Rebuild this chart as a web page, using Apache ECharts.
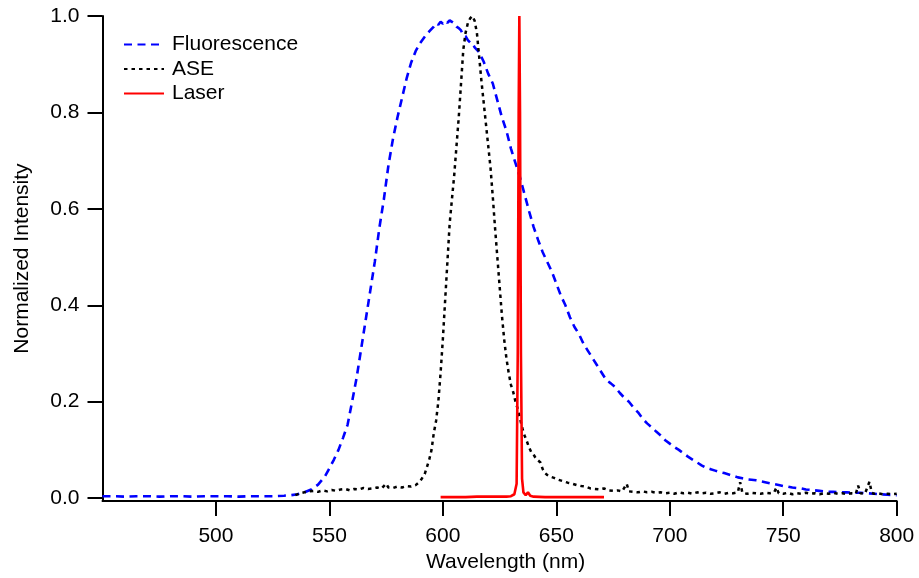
<!DOCTYPE html>
<html>
<head>
<meta charset="utf-8">
<script src="https://cdn.jsdelivr.net/npm/echarts@6/dist/echarts.min.js"></script>
<style>
html,body{margin:0;padding:0;background:#fff;}
#chart{width:919px;height:578px;}
</style>
</head>
<body>
<div id="chart"></div>
<script>
// ---- Data ----
const xTicks = [500, 550, 600, 650, 700, 750, 800];
const yTicks = [0, 0.2, 0.4, 0.6, 0.8, 1.0];

const fluoWl = [450,455,460,465,470,475,480,485,490,495,500,505,510,515,520,525,530,533,536,539,542,545,548,550,552,554,556,558,560,562,564,566,568,570,572,574,576,578,580,582,584,586,588,590,592,594,596,597,598,599,600,601,602,603,604,605,606,607,608,609,610,611,612,613,614,616,618,620,622,624,626,628,630,632,634,636,638,640,642,644,646,648,650,652,654,656,658,660,662,664,666,668,670,672,674,676,678,680,682,684,686,688,690,692,694,696,698,700,702,704,706,708,710,712,714,716,718,720,722,724,726,728,730,732,734,736,738,740,742,744,746,748,750,752,754,756,758,760,762,764,766,768,770,772,775,778,781,784,787,790,793,796,800];
const fluoVal = [0.004,0.004,0.003,0.004,0.004,0.003,0.004,0.004,0.003,0.004,0.004,0.004,0.003,0.004,0.004,0.004,0.005,0.006,0.008,0.012,0.018,0.028,0.045,0.062,0.080,0.100,0.125,0.152,0.200,0.250,0.310,0.370,0.430,0.490,0.560,0.620,0.690,0.745,0.790,0.830,0.870,0.903,0.927,0.944,0.957,0.968,0.978,0.985,0.982,0.988,0.984,0.990,0.986,0.991,0.988,0.985,0.978,0.975,0.970,0.960,0.958,0.950,0.945,0.944,0.935,0.925,0.905,0.880,0.860,0.825,0.790,0.762,0.725,0.695,0.665,0.630,0.595,0.562,0.535,0.510,0.490,0.470,0.445,0.420,0.400,0.375,0.355,0.340,0.320,0.305,0.290,0.275,0.260,0.245,0.238,0.230,0.218,0.208,0.200,0.188,0.178,0.165,0.155,0.147,0.138,0.130,0.120,0.113,0.106,0.100,0.093,0.086,0.080,0.074,0.068,0.063,0.060,0.057,0.054,0.052,0.049,0.046,0.043,0.041,0.039,0.038,0.037,0.035,0.033,0.031,0.029,0.027,0.025,0.024,0.022,0.021,0.020,0.018,0.017,0.016,0.015,0.014,0.013,0.013,0.012,0.012,0.011,0.011,0.010,0.009,0.008,0.007,0.006];

const aseWl = [535,537,539,541,543,545,547,549,551,553,555,557,559,561,563,565,567,569,571,573,575,576,578,580,582,584,586,588,590,592,593,594,595,596,597,598,599,600,601,602,603,604,605,606,607,608,609,610,611,612,613,614,615,616,617,618,619,620,621,622,623,624,625,626,627,628,629,630,631,632,633,634,635,636,637,638,639,640,641,642,643,644,645,646,647,649,651,653,655,657,659,661,663,665,667,669,671,673,675,677,679,681,682,684,686,688,690,692,694,696,698,700,702,704,706,708,710,712,714,716,718,720,722,724,726,728,730,731,732,734,736,738,740,742,744,746,747,748,750,752,754,756,758,760,762,764,766,768,770,772,774,776,778,780,782,783,784,786,788,789,790,792,794,796,798,800];
const aseVal = [0.006,0.010,0.012,0.014,0.015,0.013,0.016,0.014,0.017,0.015,0.018,0.019,0.016,0.019,0.018,0.021,0.019,0.020,0.022,0.020,0.030,0.022,0.021,0.024,0.022,0.025,0.024,0.027,0.035,0.050,0.065,0.080,0.100,0.135,0.160,0.200,0.260,0.330,0.410,0.490,0.570,0.620,0.670,0.730,0.790,0.860,0.930,0.965,0.985,0.995,1.000,0.990,0.965,0.915,0.865,0.820,0.775,0.730,0.685,0.625,0.560,0.500,0.440,0.380,0.330,0.290,0.260,0.235,0.220,0.200,0.185,0.165,0.145,0.130,0.118,0.105,0.095,0.090,0.082,0.078,0.074,0.060,0.052,0.048,0.045,0.042,0.038,0.035,0.032,0.030,0.027,0.025,0.024,0.020,0.019,0.018,0.020,0.016,0.015,0.016,0.014,0.030,0.014,0.013,0.012,0.014,0.012,0.013,0.011,0.012,0.010,0.011,0.009,0.012,0.010,0.011,0.009,0.012,0.010,0.011,0.009,0.010,0.012,0.009,0.011,0.010,0.012,0.033,0.011,0.009,0.011,0.010,0.009,0.011,0.010,0.012,0.022,0.010,0.009,0.011,0.008,0.010,0.009,0.011,0.009,0.010,0.008,0.010,0.009,0.011,0.009,0.010,0.008,0.010,0.009,0.026,0.010,0.009,0.034,0.011,0.009,0.010,0.008,0.009,0.008,0.009];

const laserWl = [599,605,610,615,620,625,628,630,631.5,632.5,633.0,633.4,633.7,634.0,634.4,634.9,635.5,636.5,637.5,638.5,640,645,650,660,671];
const laserVal = [0.002,0.002,0.002,0.003,0.003,0.003,0.003,0.004,0.008,0.03,0.30,0.80,1.00,0.80,0.30,0.04,0.012,0.006,0.012,0.005,0.003,0.002,0.002,0.002,0.002];

function pairs(xs, ys){ return xs.map((x,i)=>[x, ys[i]]); }

const FONT = 'Liberation Sans, Arial, Helvetica, sans-serif';
const chart = echarts.init(document.getElementById('chart'), null, {renderer:'canvas'});
chart.setOption({
  animation:false,
  backgroundColor:'#ffffff',
  grid:{left:102.5, right:22.3, top:16, bottom:75, containLabel:false},
  legend:{
    orient:'vertical', left:123, top:34, padding:0,
    itemWidth:40, itemHeight:14, itemGap:3.5,
    itemStyle:{opacity:0, color:'transparent', borderWidth:0},
    textStyle:{fontFamily:FONT, fontSize:21, color:'#000', padding:[0,0,0,3]},
    data:['Fluorescence','ASE','Laser']
  },
  xAxis:{
    type:'value', min:450, max:800, interval:50,
    name:'Wavelength (nm)', nameLocation:'middle', nameGap:45,
    nameTextStyle:{fontFamily:FONT, fontSize:21, color:'#000', padding:[0,0,0,12]},
    axisLine:{show:true, onZero:false, lineStyle:{color:'#000', width:2}},
    axisTick:{show:true, inside:false, length:15, lineStyle:{color:'#000', width:2}, customValues:xTicks},
    axisLabel:{fontFamily:FONT, fontSize:21, color:'#000', margin:25, customValues:xTicks},
    splitLine:{show:false}
  },
  yAxis:{
    type:'value', min:-0.0062, max:1.0,
    name:'Normalized Intensity', nameLocation:'middle', nameGap:70,
    nameTextStyle:{fontFamily:FONT, fontSize:21, color:'#000'},
    axisLine:{show:true, onZero:false, lineStyle:{color:'#000', width:2}},
    axisTick:{show:true, inside:false, length:15, lineStyle:{color:'#000', width:2}, customValues:yTicks},
    axisLabel:{fontFamily:FONT, fontSize:21, color:'#000', margin:23, customValues:yTicks,
      formatter:(v)=>v.toFixed(1)},
    splitLine:{show:false}
  },
  series:[
    {name:'Fluorescence', type:'line', symbol:'none', data:pairs(fluoWl, fluoVal),
      lineStyle:{color:'#0000ff', width:2.6, type:[8,5.5]}, itemStyle:{color:'#0000ff'}},
    {name:'ASE', type:'line', symbol:'none', data:pairs(aseWl, aseVal),
      lineStyle:{color:'#000000', width:2.5, type:[3.5,4]}, itemStyle:{color:'#000000'}},
    {name:'Laser', type:'line', symbol:'none', data:pairs(laserWl, laserVal),
      lineStyle:{color:'#ff0000', width:2.6, type:'solid'}, itemStyle:{color:'#ff0000'}}
  ]
});
</script>
</body>
</html>
